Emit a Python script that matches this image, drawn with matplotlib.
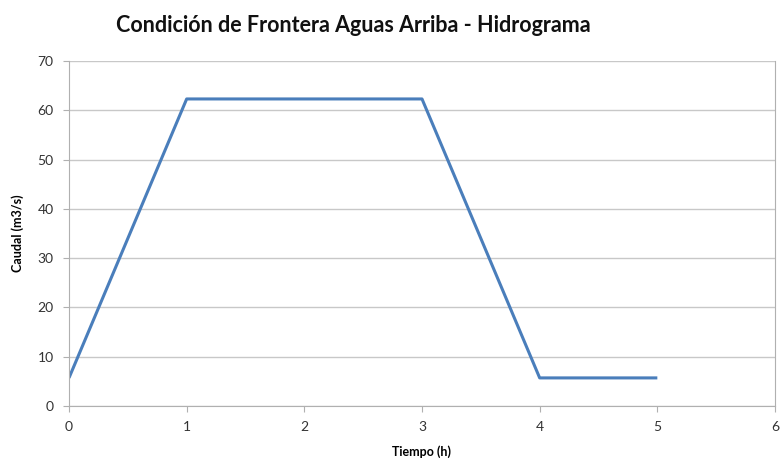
import matplotlib
matplotlib.use("Agg")
import matplotlib.pyplot as plt

tiempo = [0, 1, 3, 4, 5]
caudal = [5.7, 62.3, 62.3, 5.7, 5.7]
xticks = [0, 1, 2, 3, 4, 5, 6]
yticks = [0, 10, 20, 30, 40, 50, 60, 70]

plt.rcParams['font.family'] = ['Lato', 'DejaVu Sans']

fig = plt.figure(figsize=(7.82, 4.66), dpi=100)
ax = fig.add_axes([69/782, 1-406/466, (775-69)/782, (406-61)/466])

ax.plot(tiempo, caudal, color='#4a7ebb', lw=2.2, solid_capstyle='butt')
ax.set_xlim(0, 6)
ax.set_ylim(0, 70)
ax.set_xticks(xticks)
ax.set_yticks(yticks)
ax.grid(axis='y', color='#c8c8c8', lw=1)
ax.set_axisbelow(True)
for s in ['top']:
    ax.spines[s].set_visible(False)
for s in ['left', 'bottom', 'right']:
    ax.spines[s].set_color('#b0b0b0')
ax.tick_params(axis='both', colors='#b0b0b0', labelcolor='#333333', labelsize=10, length=4)
ax.tick_params(axis='x', direction='out', pad=7)
ax.tick_params(axis='y', direction='out', pad=7)

ax.set_xlabel('Tiempo (h)', fontsize=9, fontweight='bold', labelpad=9)
ax.set_ylabel('Caudal (m3/s)', fontsize=9, fontweight='bold', labelpad=10)
fig.text(0.452, 0.945, 'Condición de Frontera Aguas Arriba - Hidrograma', ha='center', va='center',
         fontsize=15.5, fontweight='bold', color='#111111')

fig.savefig('out.png', dpi=100)
